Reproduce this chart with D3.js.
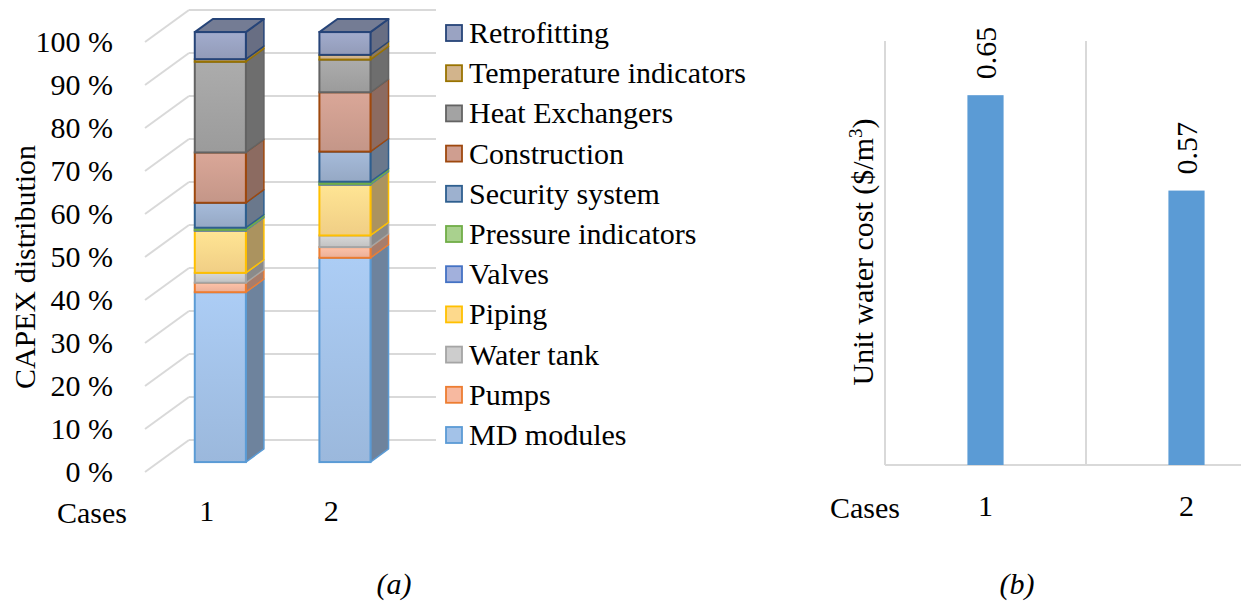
<!DOCTYPE html>
<html><head><meta charset="UTF-8"><script src="https://d3js.org/d3.v7.min.js"></script></head>
<body style="margin:0">
<script>
// datos
const cases = ["1", "2"];
const components = ["MD modules", "Pumps", "Water tank", "Piping", "Valves", "Pressure indicators",
  "Security system", "Construction", "Heat Exchangers", "Temperature indicators", "Retrofitting"];
// % del CAPEX para cada caso, mismo orden que components
const case1Share = [39.5, 2.2, 2.3, 9.8, 0.2, 0.5, 5.8, 11.7, 21.1, 0.6, 6.3];
const case2Share = [47.5, 2.5, 2.7, 11.8, 0.2, 0.5, 7.0, 13.8, 7.6, 1.1, 5.3];
const percentTicks = [0, 10, 20, 30, 40, 50, 60, 70, 80, 90, 100];
const unitCost = [0.654, 0.573];

const fills = ["#a3c2e8", "#f7b9a0", "#cdcdcd", "#fdd98c", "#a2b0dc", "#a9d18e",
  "#9db1cf", "#cf9e90", "#a3a3a3", "#d2b48c", "#9aa3c2"];
const strokes = ["#5b9bd5", "#ed7d31", "#a5a5a5", "#ffc000", "#4472c4", "#70ad47",
  "#2e5f8f", "#9e480e", "#636363", "#997300", "#264478"];

const W = 1241, H = 602;
const svg = d3.select("body").append("svg").attr("width", W).attr("height", H);
const defs = svg.append("defs");
const FS = 30;
const SERIF = '"Times New Roman"';

// ---------- (a) 3D stacked columns ----------
const depth = { dx: 44, dy: -32 };       // desplazamiento del piso completo
const barD0 = 0.31, barD1 = 0.72;         // profundidad de las barras
const y = d3.scaleLinear().domain([0, 100]).range([472, 42]);
const x = d3.scaleBand().domain(cases).range([145, 393]).paddingInner(0.59).paddingOuter(0.29);
const gridRight = 436;

const ga = svg.append("g");
// lineas de la grilla: pared trasera + diagonal del piso
percentTicks.forEach(t => {
  const yb = y(t) + depth.dy;
  ga.append("line").attr("x1", 145).attr("y1", y(t)).attr("x2", 145 + depth.dx).attr("y2", yb)
    .attr("stroke", "#d9d9d9").attr("stroke-width", 2);
  ga.append("line").attr("x1", 145 + depth.dx).attr("y1", yb).attr("x2", gridRight).attr("y2", yb)
    .attr("stroke", "#d9d9d9").attr("stroke-width", 2);
});

ga.selectAll("text.tick").data(percentTicks).join("text")
  .attr("class", "tick")
  .style("font-family", d => SERIF)
  .attr("x", 113).attr("y", d => y(d) + 10)
  .attr("text-anchor", "end").attr("font-size", FS)
  .text(d => d + " %");

ga.append("text")
  .style("font-family", SERIF)
  .attr("transform", "translate(35,267) rotate(-90)")
  .attr("text-anchor", "middle").attr("font-size", FS)
  .text("CAPEX distribution");

// gradientes por serie
components.forEach((c, i) => {
  const g = defs.append("linearGradient").attr("id", "grad" + i)
    .attr("x1", 0).attr("y1", 0).attr("x2", 0).attr("y2", 1);
  g.append("stop").attr("offset", "0%").attr("stop-color", d3.color(fills[i]).brighter(0.15));
  g.append("stop").attr("offset", "100%").attr("stop-color", d3.color(fills[i]).darker(0.15));
});

const shares = [case1Share, case2Share];
const ox0 = depth.dx * barD0, oy0 = depth.dy * barD0;
const sdx = depth.dx * (barD1 - barD0), sdy = depth.dy * (barD1 - barD0);

shares.forEach((vals, ci) => {
  const bx = x(cases[ci]) + ox0;
  const bw = x.bandwidth();
  let acc = 0;
  const g = ga.append("g");
  vals.forEach((v, si) => {
    const yTop = y(acc + v) + oy0, yBot = y(acc) + oy0;
    acc += v;
    // cara lateral
    g.append("path")
      .attr("d", `M${bx + bw},${yBot}L${bx + bw + sdx},${yBot + sdy}L${bx + bw + sdx},${yTop + sdy}L${bx + bw},${yTop}Z`)
      .attr("fill", d3.color(fills[si]).darker(1.1))
      .attr("stroke", strokes[si]).attr("stroke-width", 1.5).attr("stroke-linejoin", "round");
    // cara frontal
    g.append("rect")
      .attr("x", bx).attr("y", yTop).attr("width", bw).attr("height", Math.max(0.1, yBot - yTop))
      .attr("fill", `url(#grad${si})`)
      .attr("stroke", strokes[si]).attr("stroke-width", 2);
    if (si === vals.length - 1) {
      g.append("path")
        .attr("d", `M${bx},${yTop}L${bx + sdx},${yTop + sdy}L${bx + bw + sdx},${yTop + sdy}L${bx + bw},${yTop}Z`)
        .attr("fill", "#747c94")
        .attr("stroke", strokes[si]).attr("stroke-width", 2).attr("stroke-linejoin", "round");
    }
  });
});

ga.append("text").style("font-family", SERIF)
  .attr("x", 57).attr("y", 523).attr("font-size", FS).text("Cases");
ga.selectAll("text.cat").data(cases).join("text")
  .attr("class", "cat").style("font-family", SERIF)
  .attr("x", d => x(d) + x.bandwidth() / 2).attr("y", 521)
  .attr("text-anchor", "middle").attr("font-size", FS).text(d => d);

// leyenda (orden inverso)
const legend = ga.append("g");
components.slice().reverse().forEach((c, k) => {
  const i = components.length - 1 - k;
  const ly = 33 + k * 40.2;
  legend.append("rect").attr("x", 446).attr("y", ly - 8).attr("width", 16).attr("height", 16)
    .attr("fill", fills[i]).attr("stroke", strokes[i]).attr("stroke-width", 1.8);
  legend.append("text").style("font-family", SERIF)
    .attr("x", 469).attr("y", ly + 10).attr("font-size", FS).text(c);
});

ga.append("text").style("font-family", SERIF)
  .attr("x", 394).attr("y", 594)
  .attr("text-anchor", "middle").attr("font-size", FS).attr("font-style", "italic").text("(a)");

// ---------- (b) unit water cost ----------
const gb = svg.append("g");
const xb = d3.scaleBand().domain(cases).range([885, 1287]).paddingInner(0.82).paddingOuter(0.41);
const yb = d3.scaleLinear().domain([0.34, 0.70]).range([465, 41]);

[885, 885 + xb.step(), 885 + 2 * xb.step()].forEach(gx => {
  gb.append("line").attr("x1", gx).attr("x2", gx).attr("y1", 41).attr("y2", 465)
    .attr("stroke", "#d9d9d9").attr("stroke-width", 2);
});
gb.append("line").attr("x1", 885).attr("x2", W).attr("y1", 465).attr("y2", 465)
  .attr("stroke", "#d9d9d9").attr("stroke-width", 2);

gb.selectAll("rect").data(unitCost).join("rect")
  .attr("x", (d, i) => xb(cases[i])).attr("width", xb.bandwidth())
  .attr("y", d => yb(d)).attr("height", d => 465 - yb(d))
  .attr("fill", "#5b9bd5");

gb.selectAll("text.val").data(unitCost).join("text")
  .attr("class", "val").style("font-family", SERIF)
  .attr("transform", (d, i) => `translate(${xb(cases[i]) + xb.bandwidth() / 2 + 10},${yb(d) - 16}) rotate(-90)`)
  .attr("font-size", FS).text(d => d.toFixed(2));

const yt = gb.append("text").style("font-family", SERIF)
  .attr("transform", "translate(873,252) rotate(-90)")
  .attr("text-anchor", "middle").attr("font-size", FS);
yt.append("tspan").text("Unit water cost ($/m");
yt.append("tspan").attr("font-size", 19).attr("dy", -11).text("3");
yt.append("tspan").attr("dy", 11).text(")");

gb.append("text").style("font-family", SERIF)
  .attr("x", 830).attr("y", 518).attr("font-size", FS).text("Cases");
gb.selectAll("text.cat").data(cases).join("text")
  .attr("class", "cat").style("font-family", SERIF)
  .attr("x", d => xb(d) + xb.bandwidth() / 2).attr("y", 516)
  .attr("text-anchor", "middle").attr("font-size", FS).text(d => d);

gb.append("text").style("font-family", SERIF)
  .attr("x", 1017).attr("y", 594)
  .attr("text-anchor", "middle").attr("font-size", FS).attr("font-style", "italic").text("(b)");
</script>
</body>
</html>
